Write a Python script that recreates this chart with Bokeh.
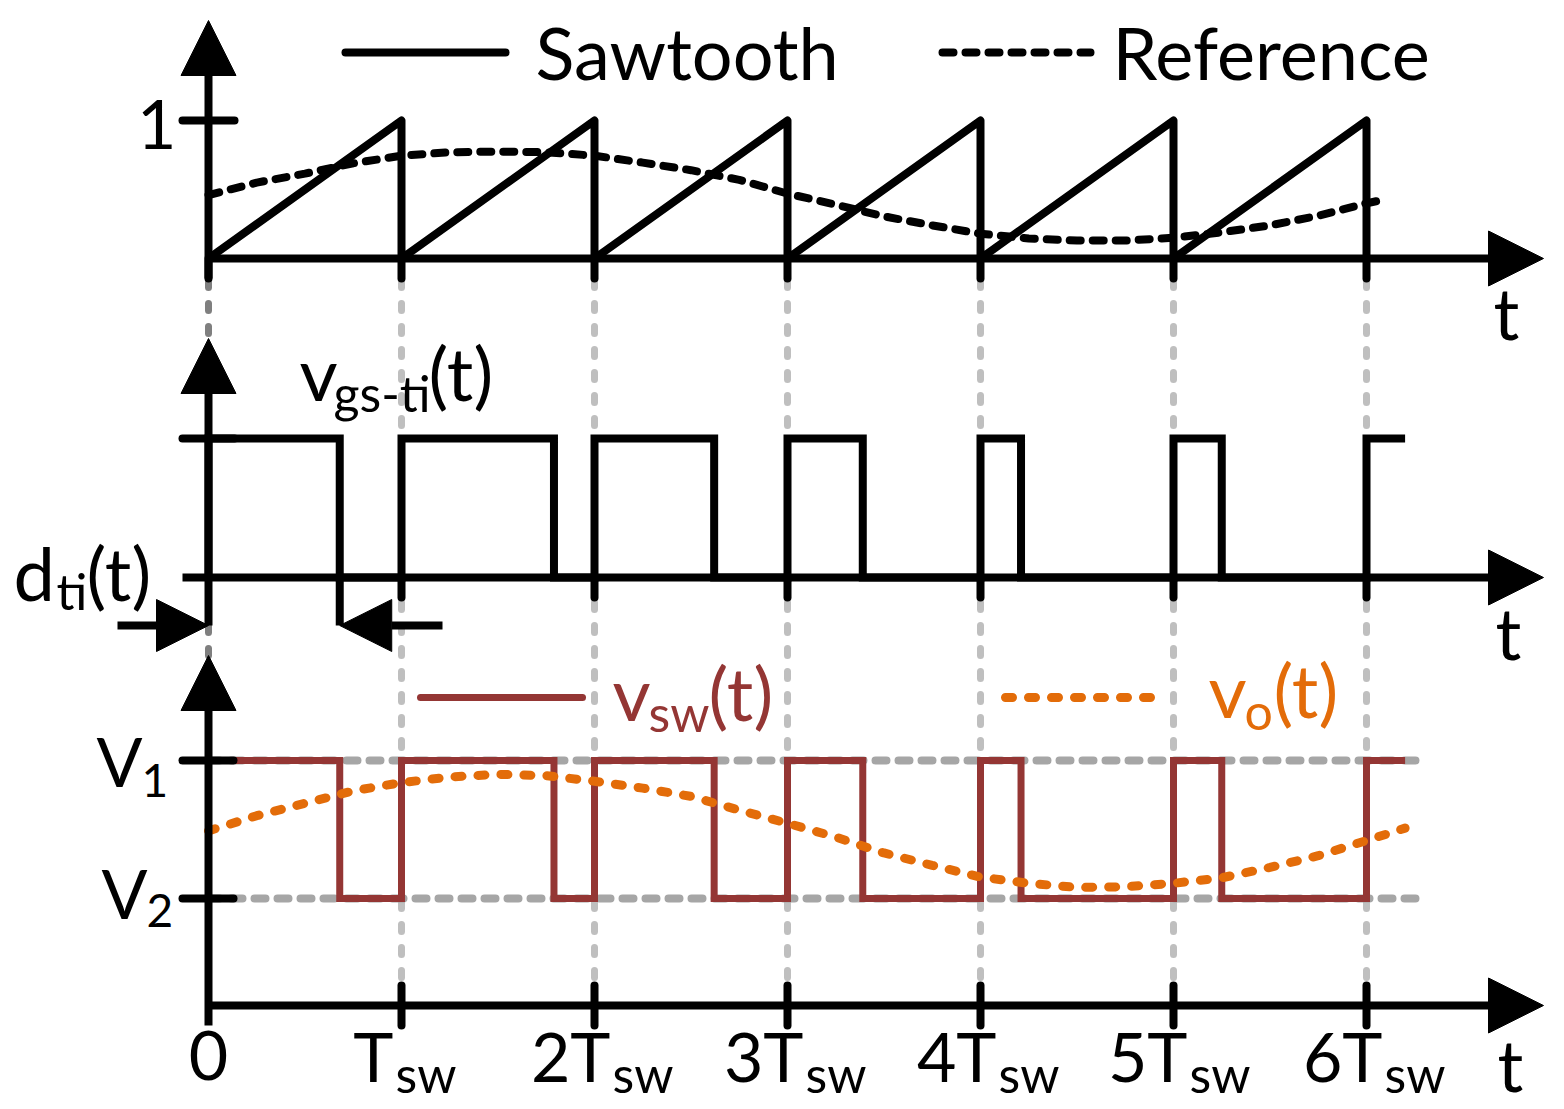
from bokeh.plotting import figure
from bokeh.models import Range1d, Arrow, NormalHead
from bokeh.core.properties import value
from bokeh.embed import file_html
from bokeh.resources import INLINE

# ---------------- data (time in units of Tsw) ----------------
switch_instants = [0, 1, 2, 3, 4, 5, 6]
duty_cycles = [0.68, 0.79, 0.62, 0.39, 0.21, 0.25]
last_pulse_end = 6.2
sawtooth_peak = 1.0

ref_t = [0, 0.25, 0.5, 0.75, 1.0, 1.25, 1.5, 1.75, 2.0, 2.25, 2.5, 2.75, 3.0,
         3.25, 3.5, 3.75, 4.0, 4.25, 4.5, 4.75, 5.0, 5.25, 5.5, 5.75, 6.0, 6.1]
ref_vals = [0.46, 0.55, 0.615, 0.69, 0.745, 0.77, 0.775, 0.77, 0.745, 0.695, 0.64, 0.57, 0.47,
            0.39, 0.305, 0.24, 0.18, 0.145, 0.13, 0.13, 0.15, 0.19, 0.24, 0.31, 0.40, 0.43]

vo_t = [0, 0.25, 0.5, 0.75, 1.0, 1.25, 1.5, 1.75, 2.0, 2.25, 2.5, 2.75, 3.0,
        3.25, 3.5, 3.75, 4.0, 4.25, 4.5, 4.75, 5.0, 5.25, 5.5, 5.75, 6.0, 6.2]
vo_vals = [0.49, 0.60, 0.69, 0.78, 0.84, 0.88, 0.90, 0.89, 0.85, 0.80, 0.74, 0.64, 0.545,
           0.445, 0.33, 0.24, 0.155, 0.11, 0.08, 0.085, 0.11, 0.15, 0.225, 0.31, 0.42, 0.51]

v_levels = [1.0, 0.0]            # V1, V2 (normalised)
tick_main = ["0", "T", "2T", "3T", "4T", "5T", "6T"]
tick_sub = ["", "sw", "sw", "sw", "sw", "sw", "sw"]

# ---------------- layout ----------------
W, H, M = 1564, 1109, 0
T0_PX, PX_PER_T = 208.0, 193.0
PANELS = {"p1": (258.0, 138.0), "p2": (577.0, 139.0), "p3": (898.0, 138.0)}  # baseline px, px per unit
tick_split_px = [0, -8, 16, 16, 16, 14, 16]
BASELINE_FIX = 0.375   # renderer places alphabetic baseline this many em too low

def tx(px):
    return (px - T0_PX) / PX_PER_T

def ty(panel, py):
    base, s = PANELS[panel]
    return (base - py) / s

def yr(panel):
    base, s = PANELS[panel]
    return Range1d(-(H + M - base) / s, (base - M) / s)

BLACK = "#000000"
RED = "#943634"
ORANGE = "#e36c09"
FONT = value("Lato")

p = figure(width=W, height=H, x_range=Range1d(tx(M), tx(M + W)), y_range=yr("p1"),
           output_backend="svg", toolbar_location=None, min_border=0,
           x_axis_location=None, y_axis_location=None)
p.extra_y_ranges = {"p1": yr("p1"), "p2": yr("p2"), "p3": yr("p3")}
p.grid.visible = False
p.outline_line_color = None
p.background_fill_color = "white"


def arrow(x0, y0, x1, y1, rn, size=55):
    p.add_layout(Arrow(x_start=x0, y_start=y0, x_end=x1, y_end=y1, y_range_name=rn,
                       line_width=8, line_color=BLACK,
                       end=NormalHead(size=size, fill_color=BLACK, line_color=BLACK, line_width=1)))


def label(x, py, text, rn, size, color=BLACK, align="left"):
    y = ty(rn, py - BASELINE_FIX * size)
    p.text(x=[x], y=[y], text=[text], y_range_name=rn, text_font=FONT,
           text_font_size=value(f"{size}px"), text_color=color, text_align=align,
           text_baseline="alphabetic")

# ---- grey vertical guides ----
p.segment(x0=switch_instants[1:], x1=switch_instants[1:],
          y0=ty("p3", 1000), y1=ty("p3", 282), y_range_name="p3",
          line_color="#bfbfbf", line_width=7, line_dash="7 16", line_cap="round")
p.segment(x0=[switch_instants[0]], x1=[switch_instants[0]],
          y0=ty("p3", 1000), y1=ty("p3", 282), y_range_name="p3",
          line_color="#7f7f7f", line_width=7, line_dash="7 16", line_cap="round")
# ---- V1 / V2 guides ----
p.segment(x0=[0] * 2, x1=[tx(1420)] * 2, y0=v_levels, y1=v_levels, y_range_name="p3",
          line_color="#a6a6a6", line_width=8, line_dash="11 12", line_cap="round")

# ================= panel 1 =================
saw_x, saw_y = [switch_instants[0]], [0.0]
for k in switch_instants[:-1]:
    saw_x += [k + 1, k + 1]
    saw_y += [sawtooth_peak, 0.0]
p.line(saw_x, saw_y, y_range_name="p1", line_color=BLACK, line_width=8, line_join="round")
p.segment(x0=switch_instants, x1=switch_instants, y0=0, y1=ty("p1", 278), y_range_name="p1",
          line_color=BLACK, line_width=8, line_cap="round")
p.segment(x0=[tx(182)], x1=[tx(234)], y0=[sawtooth_peak], y1=[sawtooth_peak], y_range_name="p1",
          line_color=BLACK, line_width=8, line_cap="round")
p.line(ref_t, ref_vals, y_range_name="p1", line_color=BLACK, line_width=8,
       line_dash="11 12", line_cap="round")
arrow(0, ty("p1", 278), 0, ty("p1", 20), "p1")
arrow(0, 0, tx(1543), 0, "p1")

# legend
p.line([tx(345), tx(505)], [ty("p1", 52)] * 2, y_range_name="p1", line_color=BLACK,
       line_width=8, line_cap="round")
label(tx(535), 78, "Sawtooth", "p1", 72)
p.line([tx(942), tx(1090)], [ty("p1", 52)] * 2, y_range_name="p1", line_color=BLACK, line_width=8,
       line_dash="11 12", line_cap="round")
label(tx(1112), 78, "Reference", "p1", 72)
label(tx(176), 149, "1", "p1", 68, align="right")
label(tx(1493), 338, "t", "p1", 72)

# ================= panel 2 =================
g_x, g_y = [], []
for k, d in zip(switch_instants[:-1], duty_cycles):
    g_x += [k, k, k + d, k + d]
    g_y += [0, 1, 1, 0]
g_x += [switch_instants[-1], switch_instants[-1], last_pulse_end]
g_y += [0, 1, 1]
p.line(g_x, g_y, y_range_name="p2", line_color=BLACK, line_width=8, line_join="miter")
p.segment(x0=switch_instants[1:], x1=switch_instants[1:], y0=0, y1=ty("p2", 597),
          y_range_name="p2", line_color=BLACK, line_width=8, line_cap="round")
p.segment(x0=[tx(182)], x1=[tx(234)], y0=[1], y1=[1], y_range_name="p2",
          line_color=BLACK, line_width=8, line_cap="round")
p.segment(x0=[duty_cycles[0]], x1=[duty_cycles[0]], y0=[0], y1=[ty("p2", 625)],
          y_range_name="p2", line_color=BLACK, line_width=8)
arrow(0, ty("p2", 625), 0, ty("p2", 338), "p2")
arrow(tx(182), 0, tx(1543), 0, "p2")
arrow(tx(117), ty("p2", 625), 0, ty("p2", 625), "p2", size=52)
arrow(tx(442), ty("p2", 625), duty_cycles[0], ty("p2", 625), "p2", size=52)

label(tx(299), 400, "v", "p2", 74)
label(tx(333), 411, "gs-ti", "p2", 50)
label(tx(428), 400, "(t)", "p2", 74)
label(tx(13), 600, "d", "p2", 74)
label(tx(56), 609, "ti", "p2", 50)
label(tx(86), 600, "(t)", "p2", 74)
label(tx(1495), 658, "t", "p2", 72)

# ================= panel 3 =================
s_x, s_y = [], []
for k, d in zip(switch_instants[:-1], duty_cycles):
    s_x += [k, k, k + d, k + d]
    s_y += [v_levels[1], v_levels[0], v_levels[0], v_levels[1]]
s_x += [switch_instants[-1], switch_instants[-1], last_pulse_end]
s_y += [v_levels[1], v_levels[0], v_levels[0]]
p.line(s_x, s_y, y_range_name="p3", line_color=RED, line_width=7, line_join="miter")
p.line(vo_t, vo_vals, y_range_name="p3", line_color=ORANGE, line_width=9,
       line_dash="7 16", line_cap="round")

p.segment(x0=switch_instants[1:], x1=switch_instants[1:], y0=ty("p3", 985), y1=ty("p3", 1025),
          y_range_name="p3", line_color=BLACK, line_width=8, line_cap="round")
p.segment(x0=[tx(182)] * 2, x1=[tx(233)] * 2, y0=v_levels, y1=v_levels, y_range_name="p3",
          line_color=BLACK, line_width=8, line_cap="round")
arrow(0, ty("p3", 1025), 0, ty("p3", 655), "p3")
arrow(0, ty("p3", 1005), tx(1543), ty("p3", 1005), "p3")

# legend
p.line([tx(420), tx(582)], [ty("p3", 697)] * 2, y_range_name="p3", line_color=RED,
       line_width=7, line_cap="round")
label(tx(612), 720, "v", "p3", 74, RED)
label(tx(648), 731, "sw", "p3", 50, RED)
label(tx(708), 720, "(t)", "p3", 74, RED)
p.line([tx(1005), tx(1160)], [ty("p3", 697)] * 2, y_range_name="p3", line_color=ORANGE,
       line_width=9, line_dash="7 16", line_cap="round")
label(tx(1208), 717, "v", "p3", 74, ORANGE)
label(tx(1244), 729, "o", "p3", 50, ORANGE)
label(tx(1273), 717, "(t)", "p3", 74, ORANGE)

label(tx(96), 785, "V", "p3", 68)
label(tx(141), 797, "1", "p3", 46)
label(tx(101), 917, "V", "p3", 68)
label(tx(146), 927, "2", "p3", 46)
label(tx(1497), 1090, "t", "p3", 72)

# x tick labels
for k, m, s, off in zip(switch_instants, tick_main, tick_sub, tick_split_px):
    if s:
        split = k + off / PX_PER_T
        label(split, 1080, m, "p3", 68, align="right")
        label(split + 2 / PX_PER_T, 1092, s, "p3", 50)
    else:
        label(k, 1080, m, "p3", 68, align="center")

open("out.html", "w").write(file_html(p, INLINE))
